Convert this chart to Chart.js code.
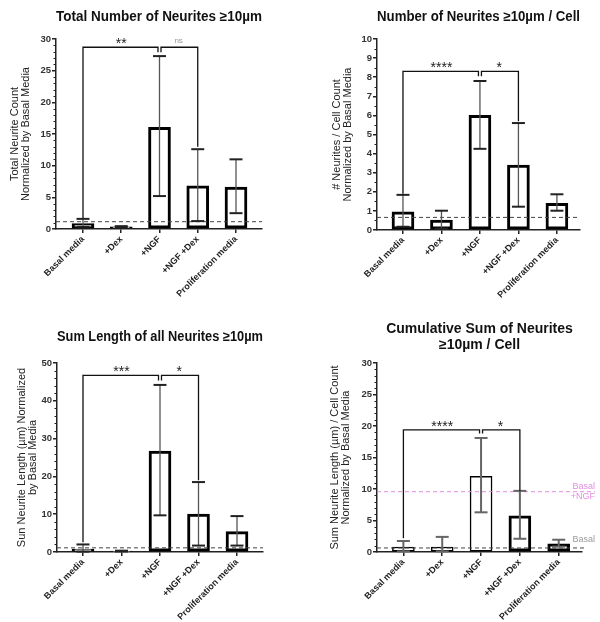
<!DOCTYPE html>
<html>
<head>
<meta charset="utf-8">
<title>Neurite outgrowth</title>
<script src="https://cdn.jsdelivr.net/npm/chart.js@4.4.1/dist/chart.umd.min.js"></script>
<style>
  html, body { margin: 0; padding: 0; background: #fff; }
  #page { position: relative; width: 600px; height: 622px; overflow: hidden; }
  .panel { position: absolute; width: 300px; }
</style>
</head>
<body>
<div id="page">
  <div class="panel" style="left:0;top:0;height:310px"><canvas id="chartTotal"></canvas></div>
  <div class="panel" style="left:300px;top:0;height:310px"><canvas id="chartPerCell"></canvas></div>
  <div class="panel" style="left:0;top:310px;height:312px"><canvas id="chartSum"></canvas></div>
  <div class="panel" style="left:300px;top:310px;height:312px"><canvas id="chartCumulative"></canvas></div>
</div>
<script>
var categories = ['Basal media', '+Dex', '+NGF', '+NGF +Dex', 'Proliferation media'];

// total neurite count
var totalMean = [0.85, 0.35, 16.05, 6.8, 6.6];
var totalLow = [0.35, 0.25, 5.2, 1.25, 2.5];
var totalHigh = [1.6, 0.45, 27.3, 12.6, 11.0];
var totalBracket = [28.7, 1.75, 27.9, 13.0];   // line, left drop, notch, right drop
var totalStars = ['**', 'ns'];
var totalBasal = 1.15;

// neurites per cell
var perCellMean = [0.95, 0.52, 6.0, 3.4, 1.4];
var perCellLow = [0.17, 0.07, 4.25, 1.22, 1.01];
var perCellHigh = [1.84, 1.01, 7.8, 5.6, 1.87];
var perCellBracket = [8.3, 1.9, 8.05, 5.7];
var perCellStars = ['****', '*'];
var perCellBasal = 0.66;

// sum length
var sumMean = [0.8, 0.25, 26.7, 10.0, 5.4];
var sumLow = [0.1, 0.15, 9.7, 1.7, 1.7];
var sumHigh = [2.0, 0.35, 44.2, 18.5, 9.5];
var sumBracket = [46.7, 2.6, 45.4, 19.0];
var sumStars = ['***', '*'];
var sumBasal = 1.1;

// cumulative sum per cell
var cumMean = [0.8, 0.8, 12.0, 5.75, 1.3];
var cumLow = [0.1, 0.1, 6.3, 2.1, 0.85];
var cumHigh = [1.75, 2.4, 18.1, 9.7, 1.95];
var cumBracket = [19.4, 2.2, 18.8, 9.7];
var cumStars = ['****', '*'];
var cumBasal = 0.64;
var cumBasalNgf = 9.57;

var FONT = "'Liberation Sans', Arial, sans-serif";
Chart.defaults.font.family = FONT;
Chart.defaults.color = '#222';

function makeOverlay(cfg) {
    return {
        id: 'overlay',
        afterDatasetsDraw: function(chart) {
            var ctx = chart.ctx;
            var xs = chart.scales.x, ys = chart.scales.y;
            var area = chart.chartArea;
            var px = function(i) { return xs.getPixelForValue(i); };
            var py = function(v) { return ys.getPixelForValue(v); };
            ctx.save();

            // minor ticks
            ctx.strokeStyle = '#222';
            ctx.lineWidth = 1;
            for (var v = cfg.minorStep; v < cfg.yMax; v += cfg.minorStep) {
                var r = v / cfg.yStep;
                if (Math.abs(r - Math.round(r)) < 1e-6) continue;
                var yy = Math.round(py(v)) + 0.5;
                ctx.beginPath();
                ctx.moveTo(area.left - 2.5, yy);
                ctx.lineTo(area.left, yy);
                ctx.stroke();
            }

            // dashed reference lines
            cfg.refLines.forEach(function(ref) {
                var y = py(ref.value);
                ctx.setLineDash([4, 3]);
                ctx.strokeStyle = ref.color;
                ctx.lineWidth = 1;
                ctx.beginPath();
                ctx.moveTo(area.left, y);
                ctx.lineTo(area.right + ref.extend, y);
                ctx.stroke();
                ctx.setLineDash([]);
                if (ref.label) {
                    ctx.fillStyle = ref.labelColor;
                    ctx.font = '9px ' + FONT;
                    ctx.textAlign = 'right';
                    ctx.textBaseline = 'middle';
                    ref.label.forEach(function(t, k) {
                        ctx.fillText(t, chart.width - 5, y + ref.labelDy + k * 10);
                    });
                }
            });

            // error bars
            cfg.mean.forEach(function(m, i) {
                var x = px(i), yl = py(cfg.low[i]), yh = py(cfg.high[i]);
                ctx.strokeStyle = cfg.errColor;
                ctx.lineWidth = cfg.errWidth;
                ctx.beginPath();
                ctx.moveTo(x, yl);
                ctx.lineTo(x, yh);
                ctx.stroke();
                ctx.strokeStyle = cfg.capColor;
                ctx.lineWidth = 2;
                [yl, yh].forEach(function(yc) {
                    ctx.beginPath();
                    ctx.moveTo(x - 6.5, yc);
                    ctx.lineTo(x + 6.5, yc);
                    ctx.stroke();
                });
            });

            // significance brackets
            var b = cfg.bracket;
            var yB = py(b[0]), x0 = px(0), x2 = px(2), x3 = px(3);
            ctx.strokeStyle = '#111';
            ctx.lineWidth = 1.3;
            ctx.beginPath();
            ctx.moveTo(x0, py(b[1]));
            ctx.lineTo(x0, yB);
            ctx.lineTo(x2 - 1.5, yB);
            ctx.lineTo(x2 - 1.5, py(b[2]));
            ctx.moveTo(x2 + 1.5, py(b[2]));
            ctx.lineTo(x2 + 1.5, yB);
            ctx.lineTo(x3, yB);
            ctx.lineTo(x3, py(b[3]));
            ctx.stroke();

            ctx.textAlign = 'center';
            ctx.textBaseline = 'middle';
            cfg.stars.forEach(function(s, k) {
                var cx = k === 0 ? (x0 + x2) / 2 : (x2 + x3) / 2;
                if (s === 'ns') {
                    ctx.fillStyle = '#999';
                    ctx.font = '8px ' + FONT;
                    ctx.fillText(s, cx, yB - 6);
                } else {
                    ctx.fillStyle = '#222';
                    ctx.font = '14px ' + FONT;
                    ctx.fillText(s, cx, yB - 3);
                }
            });
            ctx.restore();
        }
    };
}

function makeChart(id, cfg) {
    return new Chart(document.getElementById(id), {
        type: 'bar',
        data: {
            datasets: [{
                data: cfg.mean.map(function(v, i) { return { x: i, y: v }; }),
                backgroundColor: '#fff',
                borderColor: '#000',
                borderWidth: cfg.borderWidth,
                borderSkipped: false,
                barThickness: 22
            }]
        },
        options: {
            animation: false,
            responsive: true,
            maintainAspectRatio: false,
            layout: { padding: { left: 0, right: cfg.padRight, top: 0, bottom: 0 } },
            plugins: {
                legend: { display: false },
                tooltip: { enabled: false },
                title: {
                    display: true,
                    text: cfg.title,
                    fullSize: false,
                    color: '#111',
                    font: { size: 14, weight: 'bold', lineHeight: cfg.titleLineHeight },
                    padding: cfg.titlePad
                }
            },
            scales: {
                x: {
                    type: 'linear',
                    offset: false,
                    min: cfg.xMin,
                    max: cfg.xMax,
                    afterBuildTicks: function(s) {
                        s.ticks = categories.map(function(c, i) { return { value: i }; });
                    },
                    afterFit: function(s) { s.height = cfg.xHeight; },
                    ticks: {
                        autoSkip: false,
                        maxRotation: 45,
                        minRotation: 45,
                        padding: 1,
                        color: '#222',
                        font: { size: 9, weight: 'bold' },
                        callback: function(value) { return categories[value]; }
                    },
                    grid: { offset: false, drawOnChartArea: false, color: '#222', lineWidth: 1.5, tickLength: 4 },
                    border: { color: '#222', width: 1.5 }
                },
                y: {
                    min: 0,
                    max: cfg.yMax,
                    afterFit: function(s) { s.width = cfg.yWidth; },
                    ticks: {
                        stepSize: cfg.yStep,
                        padding: 1,
                        color: '#333',
                        font: { size: 9.5, weight: 'bold' }
                    },
                    grid: { drawOnChartArea: false, color: '#222', lineWidth: 1.5, tickLength: 4 },
                    border: { color: '#222', width: 1.5 },
                    title: {
                        display: true,
                        text: cfg.yTitle,
                        color: '#222',
                        font: { size: 11, lineHeight: 1 },
                        padding: { top: cfg.yTitlePad, bottom: 0 }
                    }
                }
            }
        },
        plugins: [makeOverlay(cfg)]
    });
}

var thick = [3, 3, 3, 3, 3];

makeChart('chartTotal', {
    mean: totalMean, low: totalLow, high: totalHigh,
    bracket: totalBracket, stars: totalStars,
    refLines: [{ value: totalBasal, color: '#444', extend: 0 }],
    title: 'Total Number of Neurites \u226510\u00b5m', titleLineHeight: 1.2,
    titlePad: { top: 8.6, bottom: 13.6 },
    yTitle: ['Total Neurite Count', 'Normalized by Basal Media'], yTitlePad: 9.5,
    yMax: 30, yStep: 5, minorStep: 1,
    xMin: -0.706, xMax: 4.68, yWidth: 56, xHeight: 81, padRight: 38,
    borderWidth: thick, errColor: '#555', errWidth: 1.3, capColor: '#222'
});

makeChart('chartPerCell', {
    mean: perCellMean, low: perCellLow, high: perCellHigh,
    bracket: perCellBracket, stars: perCellStars,
    refLines: [{ value: perCellBasal, color: '#444', extend: 0 }],
    title: 'Number of Neurites \u226510\u00b5m / Cell', titleLineHeight: 1.2,
    titlePad: { top: 8.6, bottom: 13.6 },
    yTitle: ['# Neurites / Cell Count', 'Normalized by Basal Media'], yTitlePad: 31.5,
    yMax: 10, yStep: 1, minorStep: 0.5,
    xMin: -0.675, xMax: 4.6, yWidth: 77, xHeight: 80, padRight: 20,
    borderWidth: thick, errColor: '#555', errWidth: 1.3, capColor: '#222'
});

makeChart('chartSum', {
    mean: sumMean, low: sumLow, high: sumHigh,
    bracket: sumBracket, stars: sumStars,
    refLines: [{ value: sumBasal, color: '#444', extend: 0 }],
    title: 'Sum Length of all Neurites \u226510\u00b5m', titleLineHeight: 1.2,
    titlePad: { top: 18.6, bottom: 17.6 },
    yTitle: ['Sun Neurite Length (\u00b5m) Normalized', 'by Basal Media'], yTitlePad: 16.5,
    yMax: 50, yStep: 10, minorStep: 2,
    xMin: -0.675, xMax: 4.675, yWidth: 57, xHeight: 70, padRight: 37,
    borderWidth: thick, errColor: '#555', errWidth: 1.3, capColor: '#222'
});

makeChart('chartCumulative', {
    mean: cumMean, low: cumLow, high: cumHigh,
    bracket: cumBracket, stars: cumStars,
    refLines: [
        { value: cumBasal, color: '#444', extend: 4, label: ['Basal'], labelColor: '#9a9a9a', labelDy: -8.5 },
        { value: cumBasalNgf, color: '#e58be0', extend: 13, label: ['Basal', '+NGF'], labelColor: '#e58be0', labelDy: -5.5 }
    ],
    title: ['Cumulative Sum of Neurites', '\u226510\u00b5m / Cell'], titleLineHeight: 16 / 14,
    titlePad: { top: 11, bottom: 10 },
    yTitle: ['Sum Neurite Length (\u00b5m) / Cell Count', 'Normalized by Basal Media'], yTitlePad: 29.5,
    yMax: 30, yStep: 5, minorStep: 1,
    xMin: -0.68, xMax: 4.6, yWidth: 77, xHeight: 70, padRight: 18,
    borderWidth: [1.5, 1.5, 1.5, 3, 3], errColor: '#666', errWidth: 2, capColor: '#666'
});
</script>
</body>
</html>
